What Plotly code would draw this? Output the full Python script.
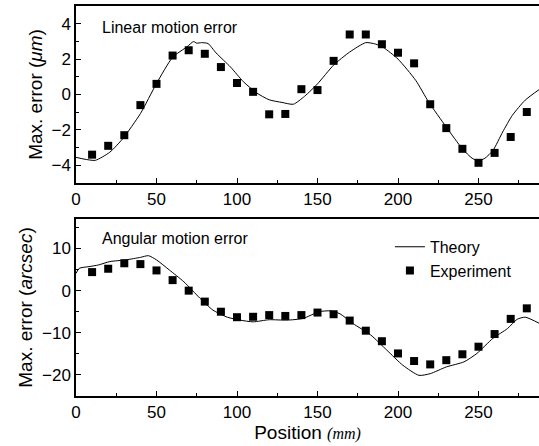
import plotly.graph_objects as go
from plotly.subplots import make_subplots

# ---- data ----
exp_x = [10, 20, 30, 40, 50, 60, 70, 80, 90, 100, 110, 120, 130, 140,
         150, 160, 170, 180, 190, 200, 210, 220, 230, 240, 250, 260, 270, 280]
lin_exp = [-3.4, -2.9, -2.3, -0.6, 0.6, 2.2, 2.5, 2.3, 1.55, 0.65, 0.15, -1.12, -1.1, 0.3,
           0.25, 1.9, 3.39, 3.39, 2.84, 2.36, 1.76, -0.55, -1.9, -3.07, -3.86, -3.3, -2.4, -0.99]
ang_exp = [4.4, 5.2, 6.5, 6.3, 4.8, 2.5, 0.0, -2.6, -5.0, -6.3, -6.2, -5.8, -6.0, -5.8,
           -5.2, -5.6, -7.1, -9.5, -12.0, -14.9, -16.7, -17.5, -16.5, -15.1, -13.3, -10.3, -6.7, -4.2]

lin_th_x = [0, 5, 12, 21, 29, 40, 50, 60, 69, 73, 75, 78, 82, 87, 96, 104, 112, 120, 128, 135,
            142, 150, 160, 170, 180, 186, 191, 200, 211, 219, 230, 240, 246, 250, 254, 259, 265,
            271, 279, 288]
lin_th_y = [-3.55, -3.65, -3.72, -3.26, -2.5, -1.08, 0.62, 2.1, 2.7, 2.99, 2.9, 2.93, 2.88, 2.35,
            1.55, 0.72, 0.1, -0.3, -0.45, -0.55, -0.1, 0.6, 1.66, 2.4, 2.93, 2.85, 2.65, 2.0, 0.8,
            -0.42, -1.84, -3.07, -3.6, -3.75, -3.6, -3.16, -2.12, -1.18, -0.32, 0.3]

ang_th_x = [0, 2, 8, 14, 21, 31, 40, 45, 50, 58, 67, 77, 85, 94, 102, 110, 120, 131, 141, 151,
            158, 164, 172, 183, 193, 203, 213, 220, 230, 241, 249, 259, 268, 274, 279, 288]
ang_th_y = [4.1, 5.3, 5.7, 6.1, 6.9, 7.3, 7.9, 8.3, 7.3, 4.9, 2.1, -1.8, -4.6, -6.3, -7.0, -7.4,
            -6.9, -7.0, -6.6, -5.0, -4.8, -5.5, -7.8, -10.5, -14.1, -17.7, -20.1, -19.7, -18.1,
            -16.9, -14.9, -11.3, -9.0, -6.8, -6.3, -7.8]

FONT = "Liberation Sans, Arial, sans-serif"

fig = make_subplots(rows=2, cols=1, vertical_spacing=0.0924)

fig.add_trace(go.Scatter(x=lin_th_x, y=lin_th_y, mode="lines", line=dict(color="black", width=1, shape="spline", smoothing=0.6),
                         name="Theory", showlegend=True), row=1, col=1)
fig.add_trace(go.Scatter(x=exp_x, y=lin_exp, mode="markers", marker=dict(symbol="square", size=8, color="black"),
                         name="Experiment", showlegend=True), row=1, col=1)
fig.add_trace(go.Scatter(x=ang_th_x, y=ang_th_y, mode="lines", line=dict(color="black", width=1, shape="spline", smoothing=0.6),
                         name="Theory", showlegend=False), row=2, col=1)
fig.add_trace(go.Scatter(x=exp_x, y=ang_exp, mode="markers", marker=dict(symbol="square", size=8, color="black"),
                         name="Experiment", showlegend=False), row=2, col=1)

xmax = (539 - 76) / 1.61
xcommon = dict(range=[0, xmax], showline=True, linecolor="black", linewidth=1.5, mirror=True,
               ticks="inside", ticklen=5, tickwidth=1, tickcolor="black", tickvals=[0, 50, 100, 150, 200, 250],
               minor=dict(ticks="inside", ticklen=3, tickcolor="black", dtick=25, tick0=0),
               showgrid=False, zeroline=False, tickfont=dict(family=FONT, size=17, color="black"))
fig.update_xaxes(**xcommon, row=1, col=1)
fig.update_xaxes(**xcommon, row=2, col=1)
fig.update_xaxes(title=dict(text="Position <span style='font-family:Liberation Serif;font-size:16px'><i>(mm)</i></span>",
                            font=dict(family=FONT, size=19, color="black"), standoff=5), row=2, col=1)

ycommon = dict(showline=True, linecolor="black", linewidth=1.5, mirror=False,
               ticks="inside", ticklen=5, tickwidth=1, tickcolor="black",
               showgrid=False, zeroline=False, tickfont=dict(family=FONT, size=17, color="black"))
fig.update_yaxes(**ycommon, range=[-5, 5], tickvals=[-4, -2, 0, 2, 4],
                 minor=dict(ticks="inside", ticklen=3, tickcolor="black", dtick=1, tick0=0),
                 title=dict(text="Max. error (<i>μm</i>)", font=dict(family=FONT, size=19, color="black"), standoff=4),
                 row=1, col=1)
fig.update_yaxes(**ycommon, range=[-25, 17], tickvals=[-20, -10, 0, 10],
                 minor=dict(ticks="inside", ticklen=3, tickcolor="black", dtick=5, tick0=0),
                 title=dict(text="Max. error (<i>arcsec</i>)", font=dict(family=FONT, size=19, color="black"), standoff=4),
                 row=2, col=1)

fig.update_layout(
    width=539, height=446,
    margin=dict(l=76, r=0, t=6, b=50),
    paper_bgcolor="white", plot_bgcolor="white",
    showlegend=True,
    legend=dict(x=0.678, y=0.426, xanchor="left", yanchor="top", bgcolor="rgba(0,0,0,0)",
                font=dict(family=FONT, size=16, color="black"), tracegroupgap=0, itemwidth=30),
    annotations=[
        dict(text="Linear motion error", x=0.052, y=0.973, xref="paper", yref="paper", xanchor="left", yanchor="top",
             showarrow=False, font=dict(family=FONT, size=16, color="black")),
        dict(text="Angular motion error", x=0.052, y=0.432, xref="paper", yref="paper", xanchor="left", yanchor="top",
             showarrow=False, font=dict(family=FONT, size=16, color="black")),
    ],
)
fig.update_xaxes(domain=[0, 1])
fig.update_yaxes(domain=[0.5462, 1], row=1, col=1)
fig.update_yaxes(domain=[0, 0.4538], row=2, col=1)

fig.write_html("out.html")
